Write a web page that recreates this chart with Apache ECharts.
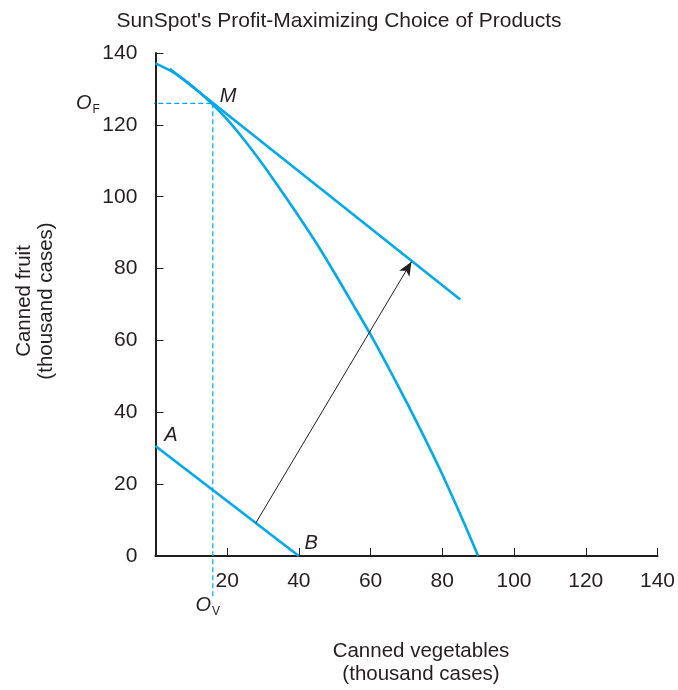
<!DOCTYPE html>
<html>
<head>
<meta charset="utf-8">
<script src="https://cdn.jsdelivr.net/npm/echarts@6/dist/echarts.min.js"></script>
<style>
  html, body { margin: 0; padding: 0; background: #fff; }
  #chart { width: 678px; height: 690px; }
</style>
</head>
<body>
<div id="chart"></div>
<script>
// values (thousand cases)
var ppfVeg   = [0, 5, 10, 15, 20, 25, 30, 35, 40, 45, 50, 55, 60, 65, 70, 75, 80, 85, 90];
var ppfFruit = [137.1, 134.6, 131, 126.6, 121.5, 115.5, 108.9, 101.8, 94.5, 86.9, 78.7, 70.2, 61.6, 52.4, 42.9, 33, 22.7, 11.6, 0];

var isoVeg   = [4, 85];
var isoFruit = [135.6, 71.4];

var abVeg   = [0, 40];
var abFruit = [30.6, 0];

var arrowFrom = [28, 9.2];
var arrowTo   = [71.4, 81.9];

var optM = [16, 126];

var blue = '#00a8e8';
var ink = '#231f20';
var font = '"Liberation Sans", Arial, sans-serif';

var zip = function (xs, ys) {
  var out = [];
  for (var i = 0; i < xs.length; i++) out.push([xs[i], ys[i]]);
  return out;
};

var myChart = echarts.init(document.getElementById('chart'));

var pointLabels = [
  { value: [20.3, 127.8], label: { formatter: '{i|M}' } },
  { value: [4.3, 33.6], label: { formatter: '{i|A}' } },
  { value: [43.4, 3.6], label: { formatter: '{i|B}' } },
  { value: [-18.8, 126], label: { formatter: '{i|O}{s|F}' } },
  { value: [14.6, -13.8], label: { formatter: '{i|O}{s|V}' } }
];

var option = {
  animation: false,
  backgroundColor: '#fff',
  textStyle: { fontFamily: font, color: ink },
  title: {
    text: "SunSpot's Profit-Maximizing Choice of Products",
    left: 'center',
    top: 6,
    textStyle: { fontFamily: font, fontSize: 21, fontWeight: 'normal', color: ink }
  },
  grid: { left: 155.4, right: 16.6, top: 53, bottom: 134 },
  xAxis: {
    type: 'value', min: 0, max: 140, interval: 20,
    splitLine: { show: false },
    axisLine: { lineStyle: { color: ink, width: 2 } },
    axisTick: { inside: true, length: 8, lineStyle: { color: ink, width: 1 } },
    axisLabel: {
      margin: 15, fontSize: 21, color: ink, fontFamily: font,
      formatter: function (v) { return v === 0 ? '' : String(v); }
    }
  },
  yAxis: {
    type: 'value', min: 0, max: 140, interval: 20,
    splitLine: { show: false },
    axisLine: { lineStyle: { color: ink, width: 2 } },
    axisTick: { inside: true, length: 8, lineStyle: { color: ink, width: 1 } },
    axisLabel: { margin: 18, fontSize: 21, color: ink, fontFamily: font }
  },
  graphic: [
    {
      type: 'text', x: 421, y: 640,
      style: {
        text: 'Canned vegetables\n(thousand cases)', fill: ink,
        font: '20.5px ' + font, textAlign: 'center', lineHeight: 23
      }
    },
    {
      type: 'text', rotation: Math.PI / 2, x: 35, y: 301,
      style: {
        text: 'Canned fruit\n(thousand cases)', fill: ink,
        font: '20.5px ' + font, textAlign: 'center', textVerticalAlign: 'middle', lineHeight: 22
      }
    }
  ],
  series: [
    {
      name: 'PPF', type: 'line', smooth: 0.3, symbol: 'none',
      lineStyle: { color: blue, width: 2.6 },
      data: zip(ppfVeg, ppfFruit)
    },
    {
      name: 'Isoprofit high', type: 'line', symbol: 'none',
      lineStyle: { color: blue, width: 2.6 },
      data: zip(isoVeg, isoFruit)
    },
    {
      name: 'Isoprofit AB', type: 'line', symbol: 'none',
      lineStyle: { color: blue, width: 2.6 },
      data: zip(abVeg, abFruit),
      markLine: {
        silent: true, symbol: ['none', 'arrow'], symbolSize: [9, 14],
        label: { show: false },
        lineStyle: { color: ink, width: 1, type: 'solid' },
        data: [[{ coord: arrowFrom }, { coord: arrowTo }]]
      }
    },
    {
      name: 'guide F', type: 'line', symbol: 'none', clip: false,
      lineStyle: { color: blue, width: 1.2, type: [5, 3] },
      data: [[-14.8, optM[1]], optM]
    },
    {
      name: 'guide V', type: 'line', symbol: 'none', clip: false,
      lineStyle: { color: blue, width: 1.2, type: [5, 3] },
      data: [optM, [optM[0], -11.4]]
    },
    {
      name: 'labels', type: 'scatter', symbolSize: 1, clip: false, silent: true,
      itemStyle: { color: 'rgba(0,0,0,0)', opacity: 1 },
      label: {
        show: true, position: 'inside', color: ink,
        textBorderWidth: 0, textBorderColor: 'transparent',
        rich: {
          i: { fontFamily: font, fontStyle: 'italic', fontSize: 20, color: ink, textBorderWidth: 0 },
          s: { fontFamily: font, fontSize: 12, color: ink, textBorderWidth: 0, padding: [12, 0, 0, 1] }
        }
      },
      data: pointLabels
    }
  ]
};
myChart.setOption(option);
</script>
</body>
</html>
